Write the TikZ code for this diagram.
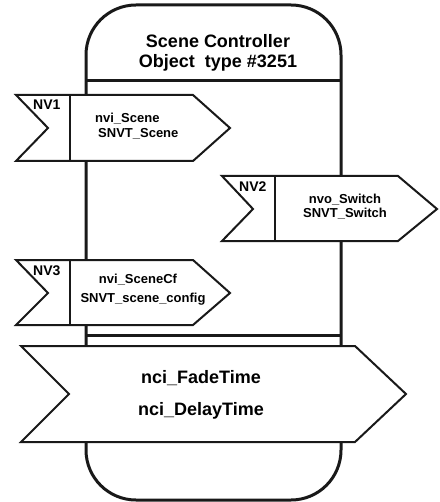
\documentclass[tikz,border=0pt]{standalone}
\usepackage{fontspec}
\setmainfont{Liberation Sans}
\begin{document}
\begin{tikzpicture}[x=1pt,y=-1pt,
  boxline/.style={line width=3pt,draw=black!90},
  flag/.style={line width=2pt,draw=black!90,fill=white,line join=miter},
  divline/.style={line width=2pt,draw=black!90},
  small/.style={font=\bfseries\fontsize{13}{15}\selectfont,inner sep=0pt},
  nvlab/.style={font=\bfseries\fontsize{14}{16}\selectfont,inner sep=0pt,anchor=base west},
  big/.style={font=\bfseries\fontsize{18}{20}\selectfont,inner sep=0pt,anchor=base}]
\useasboundingbox (0,0) rectangle (439,502);
% main object box
\draw[boxline,rounded corners=50pt] (86,5) rectangle (341,500);
\draw[boxline] (86,81) -- (341,81);
\draw[boxline] (86,335) -- (341,335);
% title
\node[big] (t1) at (218,48) {Scene Controller};
\node[big] (t2) at (218,68) {Object\ \ type \#3251};
% NV1
\draw[flag] (16,95) -- (193,95) -- (230,128) -- (193,161) -- (16,161) -- (48,128) -- cycle;
\draw[divline] (70,95) -- (70,161);
\node[nvlab] (nv1) at (33,110) {NV1};
\node[small,anchor=base west] (nv1a) at (95,123) {nvi\_Scene};
\node[small,anchor=base west] (nv1b) at (98,138) {SNVT\_Scene};
% NV2
\draw[flag] (222,176) -- (398,176) -- (437,209) -- (398,241) -- (222,241) -- (253,209) -- cycle;
\draw[divline] (275,176) -- (275,241);
\node[nvlab] (nv2) at (239,192) {NV2};
\node[small,anchor=base] (nv2a) at (345,204) {nvo\_Switch};
\node[small,anchor=base] (nv2b) at (345,218) {SNVT\_Switch};
% NV3
\draw[flag] (16,260) -- (193,260) -- (230,293) -- (193,325) -- (16,325) -- (48,293) -- cycle;
\draw[divline] (70,260) -- (70,325);
\node[nvlab] (nv3) at (33,275) {NV3};
\node[small,anchor=base] (nv3a) at (138,283) {nvi\_SceneCf};
\node[small,anchor=base] (nv3b) at (143,302) {SNVT\_scene\_config};
% config properties
\draw[flag] (21,346) -- (355,346) -- (406,394) -- (355,442) -- (21,442) -- (69,394) -- cycle;
\node[big] (c1) at (201,383) {nci\_FadeTime};
\node[big] (c2) at (201,415) {nci\_DelayTime};
\end{tikzpicture}
\end{document}
